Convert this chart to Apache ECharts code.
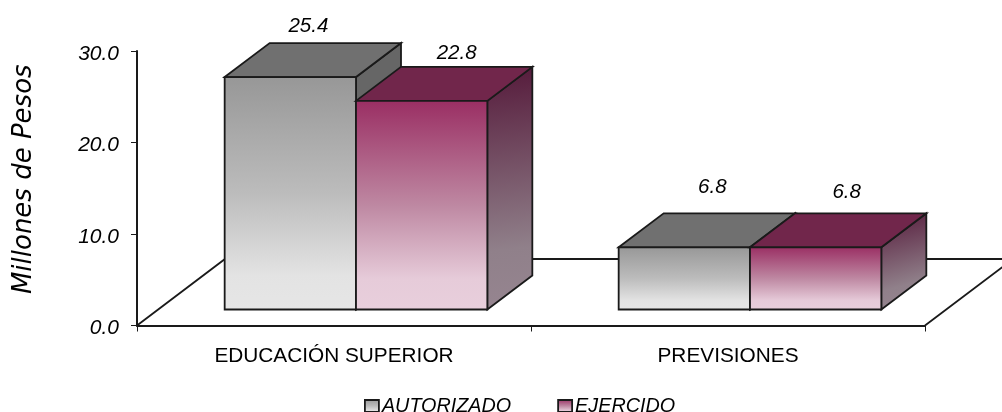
<!DOCTYPE html>
<html>
<head>
<meta charset="utf-8">
<style>html,body{margin:0;padding:0;background:#fff}#c{width:1002px;height:412px}</style>
<script src="https://cdn.jsdelivr.net/npm/echarts@6/dist/echarts.min.js"></script>
</head>
<body>
<div id="c"></div>
<script>
const categories = ['EDUCACIÓN SUPERIOR', 'PREVISIONES'];
const autorizado = [25.4, 6.8];
const ejercido = [22.8, 6.8];
const yTicks = { min: 0, max: 30, interval: 10 };
const yTitle = 'Millones de Pesos';

const FONT = '"Liberation Sans", sans-serif';
const TITLE_FONT = '"DejaVu Sans", sans-serif';
const INK = '#1a1a1a';
const DX = 45, DY = 34, SHIFT_X = 22, SHIFT_Y = 16;
const Grad = echarts.graphic.LinearGradient;

const grayStops = [{offset: 0, color: '#979797'}, {offset: 0.5, color: '#bcbcbc'}, {offset: 0.85, color: '#e3e3e3'}, {offset: 1, color: '#e6e6e6'}];
const pinkStops = [{offset: 0, color: '#9a2e63'}, {offset: 0.5, color: '#be88a2'}, {offset: 0.85, color: '#e6cbd9'}, {offset: 1, color: '#e8cfdc'}];
const skins = {
  gray: {
    front: new Grad(0, 0, 0, 1, grayStops),
    top: '#707070',
    side: '#666666',
    swatch: new Grad(0, 0, 0, 1, grayStops)
  },
  pink: {
    front: new Grad(0, 0, 0, 1, pinkStops),
    top: '#71264b',
    side: new Grad(0, 0, 0.6, 1, [{offset: 0, color: '#55193a'}, {offset: 0.75, color: '#90808a'}, {offset: 1, color: '#968590'}]),
    swatch: new Grad(0, 0, 0, 1, pinkStops)
  }
};
// hand-placed value labels of the original: [dx from front-face centre, dy from front-face top]
const gapLabels = { gray: [[18, -51], [28, -60]], pink: [[35, -48], [31, -55]] };

function barRenderer(skinName, side) {
  const skin = skinName === 'gray' ? skins.gray : skins.pink;
  return function (params, api) {
    const i = api.value(0), v = api.value(1);
    const top = api.coord([i, v]), base = api.coord([i, 0]);
    const w = api.size([1, 0])[0] / 3;
    const x0 = top[0] + SHIFT_X + (side < 0 ? -w : 0), x1 = x0 + w;
    const yt = top[1] - SHIFT_Y, yb = base[1] - SHIFT_Y;
    const line = { stroke: INK, lineWidth: 1.8, lineJoin: 'miter' };
    const nudge = gapLabels[skinName][i];
    return {
      type: 'group',
      children: [
        { type: 'polygon', shape: { points: [[x1, yb], [x1 + DX, yb - DY], [x1 + DX, yt - DY], [x1, yt]] },
          style: Object.assign({ fill: skin.side }, line) },
        { type: 'polygon', shape: { points: [[x0, yt], [x0 + DX, yt - DY], [x1 + DX, yt - DY], [x1, yt]] },
          style: Object.assign({ fill: skin.top }, line) },
        { type: 'rect', shape: { x: x0, y: yt, width: w, height: yb - yt },
          style: Object.assign({ fill: skin.front }, line) },
        { type: 'text', x: (x0 + x1) / 2 + nudge[0], y: yt + nudge[1],
          style: { text: v.toFixed(1), fill: '#000', font: 'italic 20.5px ' + FONT, align: 'center', verticalAlign: 'middle' } }
      ]
    };
  };
}

function floorRenderer(params, api) {
  const cs = params.coordSys;
  const y0 = api.coord([0, 0])[1];
  const xL = cs.x, xR = cs.x + cs.width, fx = 88, fy = 66.5;
  const s = { stroke: INK, lineWidth: 1.8, fill: null };
  return { type: 'group', children: [
    { type: 'polyline', shape: { points: [[xL, y0], [xL + fx, y0 - fy], [xR + fx, y0 - fy], [xR, y0]] }, style: s }
  ]};
}

const chart = echarts.init(document.getElementById('c'), null, { renderer: 'canvas' });
chart.setOption({
  animation: false,
  backgroundColor: '#fff',
  grid: { left: 137, right: 77, top: 51, bottom: 86.5, containLabel: false },
  legend: {
    left: 364, top: 396, padding: 0, itemWidth: 14, itemHeight: 12, itemGap: 46,
    icon: 'rect', selectedMode: false,
    textStyle: { fontFamily: FONT, fontStyle: 'italic', fontSize: 19.8, color: '#000', padding: [5, 0, 0, -2] },
    data: [
      { name: 'AUTORIZADO', itemStyle: { color: skins.gray.swatch, borderColor: INK, borderWidth: 1.8 } },
      { name: 'EJERCIDO', itemStyle: { color: skins.pink.swatch, borderColor: INK, borderWidth: 1.8 } }
    ]
  },
  xAxis: {
    type: 'category', data: categories, boundaryGap: true,
    axisLine: { lineStyle: { color: INK, width: 2 } },
    axisTick: { show: true, alignWithLabel: false, length: 6, lineStyle: { color: INK, width: 1 } },
    axisLabel: { color: '#000', fontFamily: FONT, fontSize: 20.8, margin: 20 }
  },
  yAxis: {
    type: 'value', min: yTicks.min, max: yTicks.max, interval: yTicks.interval,
    name: yTitle, nameLocation: 'middle', nameGap: 100, nameRotate: 90,
    nameTextStyle: { fontFamily: TITLE_FONT, fontStyle: 'italic', fontSize: 26, color: '#000', padding: [0, 0, 0, 18] },
    axisLine: { show: true, lineStyle: { color: INK, width: 2 } },
    axisTick: { show: true, length: 6, lineStyle: { color: INK, width: 1 } },
    splitLine: { show: false },
    axisLabel: { color: '#000', fontFamily: FONT, fontStyle: 'italic', fontSize: 21, margin: 18, verticalAlign: 'top', lineHeight: 6, formatter: v => v.toFixed(1) }
  },
  series: [
    { type: 'custom', silent: true, renderItem: floorRenderer, data: [[0, 0]], encode: { x: 0, y: 1 }, z: 1 },
    { type: 'custom', name: 'AUTORIZADO', renderItem: barRenderer('gray', -1), itemStyle: { color: skins.gray.swatch },
      data: autorizado.map((v, i) => [i, v]), encode: { x: 0, y: 1 }, z: 2 },
    { type: 'custom', name: 'EJERCIDO', renderItem: barRenderer('pink', 1), itemStyle: { color: skins.pink.swatch },
      data: ejercido.map((v, i) => [i, v]), encode: { x: 0, y: 1 }, z: 3 }
  ]
});
</script>
</body>
</html>
